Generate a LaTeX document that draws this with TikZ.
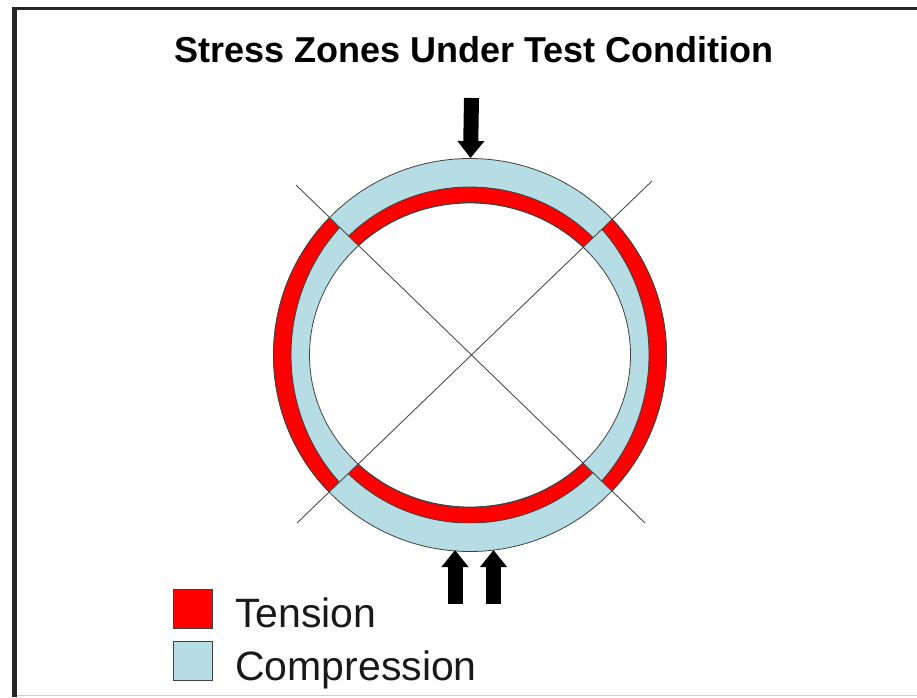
\documentclass[tikz,border=0pt]{standalone}
\usepackage{fontspec}
\setmainfont{Liberation Sans}
\usepackage{xcolor}
\usetikzlibrary{arrows.meta}
\definecolor{compblue}{HTML}{B5DDE3}
\definecolor{tensred}{HTML}{FF0000}

\begin{document}
\begin{tikzpicture}[
  x=1pt, y=-1pt,
  swatch/.style={draw=black!75, line width=1pt, minimum size=39pt, inner sep=0pt, fill=#1},
  legend/.style={anchor=base west, inner sep=0pt, font=\fontsize{41}{41}\selectfont, text=black!90},
  ringline/.style={draw=black!75, line width=0.8pt},
  zone/.style={ringline, fill=tensred, even odd rule},
  diag/.style={draw=black!70, line width=0.9pt},
  push/.style={line width=15pt, -{Triangle[length=17pt, width=26pt]}},
]
\useasboundingbox (0,0) rectangle (917,697);

% frame of the scan
\draw[black!85, line width=5pt] (14.5,697) -- (14.5,8.5);
\draw[black!85, line width=2.5pt] (12,8.5) -- (917,8.5);
\draw[black!20, line width=1.5pt] (17,695.5) -- (917,695.5);

\node[inner sep=0pt, anchor=base, font=\bfseries\fontsize{36}{36}\selectfont, text=black] (title) at (474,62) {Stress Zones Under Test Condition};

\coordinate (O) at (470,355);
\coordinate (nw) at (296,185);
\coordinate (ne) at (652,181);
\coordinate (se) at (645,523);
\coordinate (sw) at (297,523);
\coordinate (lft) at (200,355);
\coordinate (rgt) at (740,355);

% ring
\draw[ringline, fill=compblue] (O) circle [radius=196.5];
\fill[white] (O) ellipse [x radius=160.5, y radius=152];
\draw[ringline] (O) ellipse [x radius=160.5, y radius=152];

% tension zones
\foreach \a/\b in {nw/ne,sw/se} {
  \begin{scope}
    \clip (O) -- (\a) -- (\b) -- cycle;
    \draw[zone] (O) ellipse [x radius=172, y radius=168] (O) ellipse [x radius=160.5, y radius=152.5];
  \end{scope}
}
\foreach \a/\m/\b in {nw/lft/sw,ne/rgt/se} {
  \begin{scope}
    \clip (O) -- (\a) -- (\m) -- (\b) -- cycle;
    \draw[zone] (O) circle [radius=196.5] (O) ellipse [x radius=179, y radius=186];
  \end{scope}
}

\draw[diag] (nw) -- (se);
\draw[diag] (ne) -- (sw);

% loads
\coordinate (top0) at (471.5,98);
\coordinate (top1) at (470.5,158);
\coordinate (botA0) at (455,604);
\coordinate (botA1) at (455,550);
\coordinate (botB0) at (493.5,604);
\coordinate (botB1) at (493.5,550);
\draw[push] (top0) -- (top1);
\draw[push] (botA0) -- (botA1);
\draw[push] (botB0) -- (botB1);

% legend
\node[swatch=tensred] (tens) at (193,609) {};
\node[swatch=compblue] (comp) at (193,661) {};
\node[legend] (tenstext) at (235,627) {Tension};
\node[legend] (comptext) at (235,680) {Compression};
\end{tikzpicture}
\end{document}
